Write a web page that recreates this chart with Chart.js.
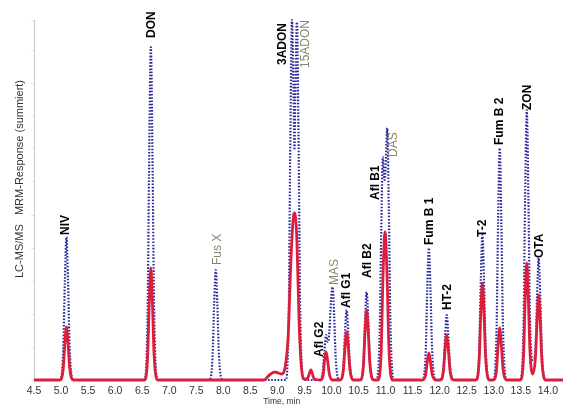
<!DOCTYPE html>
<html>
<head>
<meta charset="utf-8">
<script src="https://cdn.jsdelivr.net/npm/chart.js@4.4.1/dist/chart.umd.min.js"></script>
<style>
    body { margin: 0; background: #fff; }
    #wrap { width: 580px; height: 409px; }
</style>
</head>
<body>
<div id="wrap"><canvas id="chromChart"></canvas></div>
<script>
// retention time (min) / summed MRM response, red trace (sample)
const redTime = [4.50,
    4.98, 5.04, 5.07, 5.10, 5.13, 5.16, 5.23,
    6.54, 6.60, 6.63, 6.66, 6.69, 6.72, 6.79,
    8.75, 8.85, 8.95, 9.02, 9.08,
    9.14, 9.20, 9.25, 9.30, 9.32, 9.36, 9.40, 9.44, 9.50,
    9.55, 9.62, 9.68,
    9.80, 9.85, 9.87, 9.90, 9.93, 9.96, 10.02,
    10.16, 10.22, 10.25, 10.28, 10.31, 10.34, 10.41,
    10.53, 10.59, 10.62, 10.65, 10.68, 10.71, 10.78,
    10.86, 10.92, 10.95, 10.99, 11.03, 11.06, 11.13,
    11.68, 11.74, 11.77, 11.80, 11.83, 11.86, 11.93,
    12.01, 12.07, 12.10, 12.13, 12.16, 12.19, 12.26,
    12.67, 12.73, 12.76, 12.79, 12.82, 12.85, 12.92,
    12.99, 13.05, 13.08, 13.11, 13.14, 13.17, 13.24,
    13.49, 13.55, 13.58, 13.61, 13.64, 13.67, 13.72,
    13.77, 13.80, 13.83, 13.86, 13.89, 13.96,
    14.28];
const redValue = [0,
    0, 11, 36, 53, 36, 12, 0,
    0, 22, 76, 112, 76, 25, 0,
    0, 5, 8, 7, 6,
    12, 45, 120, 165, 167, 140, 60, 15, 1,
    1, 10, 1,
    0, 6, 19, 28, 19, 6, 0,
    0, 10, 33, 48, 33, 11, 0,
    0, 14, 48, 70, 48, 16, 0,
    0, 30, 100, 148, 100, 34, 0,
    0, 5, 18, 27, 18, 6, 0,
    0, 9, 31, 45, 31, 10, 0,
    0, 19, 66, 97, 66, 22, 0,
    0, 10, 35, 52, 35, 12, 0,
    0, 23, 80, 117, 80, 28, 6,
    22, 58, 85, 58, 19, 0,
    0];

// blue dotted trace (standard)
const blueTime = [4.50,
    4.98, 5.04, 5.07, 5.10, 5.13, 5.16, 5.23,
    6.54, 6.60, 6.63, 6.66, 6.69, 6.72, 6.79,
    7.74, 7.80, 7.83, 7.86, 7.89, 7.92, 7.99,
    9.15, 9.21, 9.24, 9.27, 9.30, 9.315, 9.33, 9.36, 9.39, 9.42, 9.49,
    9.78, 9.84, 9.87, 9.90, 9.93, 9.96, 9.99, 10.02, 10.05, 10.08, 10.15,
    10.16, 10.22, 10.25, 10.28, 10.31, 10.34, 10.41,
    10.53, 10.59, 10.62, 10.65, 10.68, 10.71, 10.78,
    10.83, 10.89, 10.92, 10.95, 10.98, 11.00, 11.03, 11.06, 11.09, 11.16,
    11.68, 11.74, 11.77, 11.80, 11.83, 11.86, 11.93,
    12.01, 12.07, 12.10, 12.13, 12.16, 12.19, 12.26,
    12.67, 12.73, 12.76, 12.79, 12.82, 12.85, 12.92,
    12.99, 13.05, 13.08, 13.11, 13.14, 13.17, 13.24,
    13.49, 13.55, 13.58, 13.61, 13.64, 13.67, 13.72,
    13.77, 13.80, 13.83, 13.86, 13.89, 13.96,
    14.28];
const blueValue = [0,
    0, 29, 97, 143, 97, 31, 0,
    0, 67, 226, 333, 226, 73, 0,
    0, 22, 75, 110, 75, 24, 0,
    0, 70, 245, 360, 280, 230, 280, 358, 245, 75, 0,
    0, 9, 30, 45, 38, 48, 78, 93, 63, 20, 0,
    0, 14, 48, 70, 48, 16, 0,
    0, 18, 60, 88, 60, 20, 0,
    0, 45, 150, 223, 200, 210, 252, 171, 55, 0,
    0, 26, 90, 132, 90, 30, 0,
    0, 13, 44, 65, 44, 15, 0,
    0, 29, 99, 145, 99, 33, 0,
    0, 46, 158, 232, 158, 53, 0,
    0, 54, 184, 270, 184, 62, 20,
    30, 83, 122, 83, 28, 0,
    0];

// peak annotations: name, position (min), bottom of text (response), grey = reference compound
const peakNames = ['NIV', 'DON', 'Fus X', '3ADON', '15ADON', 'Afl G2', 'MAS', 'Afl G1', 'Afl B2',
    'Afl B1', 'DAS', 'Fum B 1', 'HT-2', 'T-2', 'Fum B 2', 'ZON', 'OTA'];
const labelTime = [5.09, 6.68, 7.90, 9.10, 9.53, 9.79, 10.06, 10.29, 10.66,
    10.82, 11.15, 11.82, 12.15, 12.80, 13.11, 13.63, 13.85];
const labelLevel = [145, 342, 115, 315, 312, 23, 95, 72, 102,
    180, 223, 135, 70, 143, 235, 270, 122];
const labelGrey = [false, false, true, false, true, false, true, false, false,
    false, true, false, false, false, false, false, false];

const xTicks = [4.5, 5.0, 5.5, 6.0, 6.5, 7.0, 7.5, 8.0, 8.5, 9.0, 9.5, 10.0, 10.5, 11.0, 11.5, 12.0, 12.5, 13.0, 13.5, 14.0];

const colors = {
    red: '#dc1e3c',
    blue: '#2a2a9c',
    grey: '#86866c',
    axis: '#c8c8c8'
};

const peakLabels = {
    id: 'peakLabels',
    afterDatasetsDraw(chart) {
        const ctx = chart.ctx;
        const xs = chart.scales.x;
        const ys = chart.scales.y;
        ctx.save();
        peakNames.forEach((name, i) => {
            ctx.save();
            ctx.translate(xs.getPixelForValue(labelTime[i]), ys.getPixelForValue(labelLevel[i]));
            ctx.rotate(-Math.PI / 2);
            ctx.font = labelGrey[i] ? '12px Arial, "Liberation Sans"' : 'bold 12px Arial, "Liberation Sans"';
            ctx.fillStyle = labelGrey[i] ? colors.grey : '#000';
            ctx.textAlign = 'left';
            ctx.textBaseline = 'middle';
            ctx.fillText(name, 0, 0);
            ctx.restore();
        });

        // axis titles
        ctx.fillStyle = '#333';
        ctx.font = '8.5px Arial, "Liberation Sans"';
        ctx.textAlign = 'center';
        ctx.textBaseline = 'middle';
        ctx.fillText('Time, min', xs.getPixelForValue(9.08), 402);

        ctx.translate(20, 278);
        ctx.rotate(-Math.PI / 2);
        ctx.font = '11px Arial, "Liberation Sans"';
        ctx.textAlign = 'left';
        ctx.fillText('LC-MS/MS   MRM-Response (summiert)', 0, 0);
        ctx.restore();
    }
};

const chromCtx = document.getElementById('chromChart').getContext('2d');
new Chart(chromCtx, {
    type: 'line',
    data: {
        datasets: [{
            data: redTime.map((t, i) => ({ x: t, y: redValue[i] })),
            borderColor: colors.red,
            borderWidth: 2.8,
            pointRadius: 0,
            cubicInterpolationMode: 'monotone',
            clip: false
        }, {
            data: blueTime.map((t, i) => ({ x: t, y: blueValue[i] })),
            borderColor: colors.blue,
            borderWidth: 2.2,
            borderDash: [1.6, 1.6],
            pointRadius: 0,
            cubicInterpolationMode: 'monotone',
            clip: false
        }]
    },
    options: {
        responsive: true,
        maintainAspectRatio: false,
        animation: false,
        layout: { padding: { top: 20, right: 17, left: 0, bottom: 0 } },
        plugins: {
            legend: { display: false },
            tooltip: { enabled: false }
        },
        scales: {
            x: {
                type: 'linear',
                min: 4.5,
                max: 14.28,
                afterBuildTicks: (scale) => {
                    scale.ticks = xTicks.map(v => ({ value: v }));
                },
                afterFit: (scale) => { scale.height = 29; },
                grid: { display: false, drawTicks: false },
                border: { display: false },
                ticks: {
                    autoSkip: false,
                    maxRotation: 0,
                    padding: 5,
                    color: '#333',
                    font: { family: 'Arial, "Liberation Sans"', size: 10.5 },
                    callback: (v) => Number(v).toFixed(1)
                }
            },
            y: {
                min: 0,
                max: 360,
                afterFit: (scale) => { scale.width = 34; },
                grid: { drawOnChartArea: false, drawTicks: true, tickLength: 3, color: '#e2e2e2' },
                border: { color: colors.axis },
                ticks: { display: false, stepSize: 33 }
            }
        }
    },
    plugins: [peakLabels]
});
</script>
</body>
</html>
